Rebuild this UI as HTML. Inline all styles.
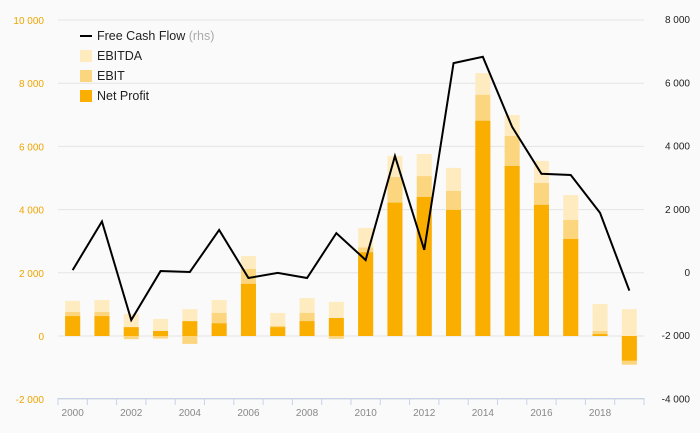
<!DOCTYPE html>
<html><head><meta charset="utf-8"><style>
body{margin:0;background:#fafafa;font-family:"Liberation Sans",sans-serif}
svg{display:block}
</style></head><body>
<svg id="c" width="700" height="433" xmlns="http://www.w3.org/2000/svg">
<rect width="700" height="433" fill="#fafafa"/>
<g id="grid"></g><g id="bars"></g><g id="line"></g><g id="axes"></g>
<g font-size="12.5" fill="#222">
<line x1="80" y1="36" x2="92" y2="36" stroke="#000" stroke-width="2"/>
<text x="97" y="40">Free Cash Flow <tspan fill="#aaa">(rhs)</tspan></text>
<rect x="80" y="50" width="12" height="12" fill="#feebc0"/>
<text x="97" y="60">EBITDA</text>
<rect x="80" y="70" width="12" height="12" fill="#fcd57f"/>
<text x="97" y="80">EBIT</text>
<rect x="80" y="90" width="12" height="12" fill="#f9ae00"/>
<text x="97" y="100">Net Profit</text>
</g>
</svg>
<script>
const years=[2000,2001,2002,2003,2004,2005,2006,2007,2008,2009,2010,2011,2012,2013,2014,2015,2016,2017,2018,2019];
const ebitda=[1110,1140,700,540,850,1140,2530,730,1200,1080,3420,5700,5760,5320,8320,6990,5540,4460,1010,850];
const ebit=[760,760,-100,-80,-250,730,2120,320,730,-90,2800,5030,5060,4590,7630,6330,4840,3670,160,-910];
const netProfit=[630,630,280,160,470,400,1650,280,470,570,2650,4220,4400,3990,6810,5380,4150,3070,60,-780];
const fcf=[60,1600,-1520,30,0,1330,-190,-30,-190,1230,380,3670,700,6610,6810,4590,3110,3070,1870,-590];
const leftTicks=[-2000,0,2000,4000,6000,8000,10000];
const rightTicks=[-4000,-2000,0,2000,4000,6000,8000];
const xLabels=[2000,2002,2004,2006,2008,2010,2012,2014,2016,2018];
const NS="http://www.w3.org/2000/svg";
const x0=58,x1=644,step=(x1-x0)/years.length;
const xc=i=>x0+step*(i+0.5);
const yL=v=>336-v*31.6/1000;
const yR=v=>272-v*31.6/1000;
function mk(tag,attrs,parent,txt){const e=document.createElementNS(NS,tag);for(const k in attrs)e.setAttribute(k,attrs[k]);if(txt!==undefined)e.textContent=txt;document.getElementById(parent).appendChild(e);return e;}
leftTicks.forEach((t,i)=>{
 const g=mk('line',{x1:58,x2:644,y1:yL(t),y2:yL(t),stroke:'#e4e4e4','stroke-width':1},'grid');
 
 
 const l=mk('text',{x:44,y:yL(t)+4,'text-anchor':'end','font-size':10,fill:'#f0a500'},'axes',t.toLocaleString('en').replace(/,/g,' '));
 
 
});
rightTicks.forEach(t=>{
 const l=mk('text',{x:690,y:yR(t)+4,'text-anchor':'end','font-size':10,fill:'#222'},'axes',t.toLocaleString('en').replace(/,/g,' '));
 
 
});
const ax=mk('line',{x1:58,x2:644,y1:398.5,y2:398.5,stroke:'#c6d3ea','stroke-width':1},'axes');


for(let i=0;i<=years.length;i++){
 const t=mk('line',{x1:x0+step*i,x2:x0+step*i,y1:398,y2:405,stroke:'#c6d3ea'},'axes');
 
 
}
xLabels.forEach(y=>{
 const i=years.indexOf(y);
 const l=mk('text',{x:xc(i),y:416,'text-anchor':'middle','font-size':10,fill:'#888'},'axes',y);
 
 
});
const bw=15;
function bar(v,i,col,name){
 const a=yL(0),b=yL(v);
 const r=mk('rect',{x:xc(i)-bw/2,y:Math.min(a,b),width:bw,height:Math.abs(a-b),fill:col},'bars');
 
 
}
years.forEach((y,i)=>{bar(ebitda[i],i,'#feebc0','bar-ebitda-'+y);bar(ebit[i],i,'#fcd57f','bar-ebit-'+y);bar(netProfit[i],i,'#f9ae00','bar-net-profit-'+y);});
const p=mk('polyline',{points:fcf.map((v,i)=>xc(i)+','+yR(v)).join(' '),fill:'none',stroke:'#000','stroke-width':2,'stroke-linejoin':'miter'},'line');


</script>
</body></html>
